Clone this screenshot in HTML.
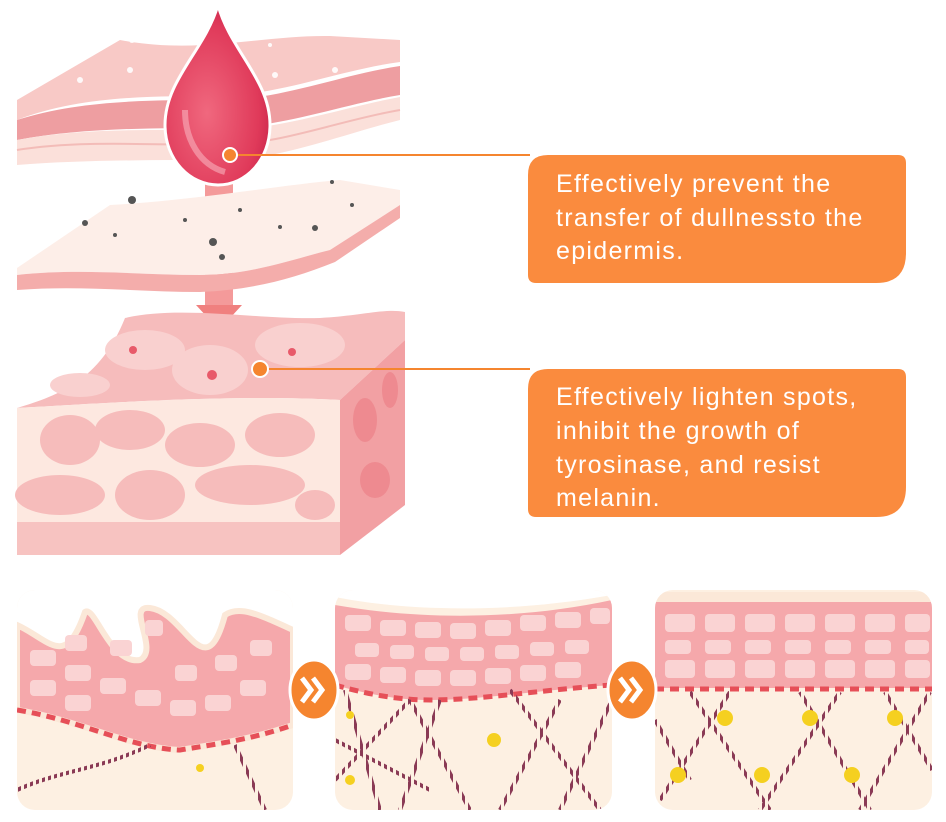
<!DOCTYPE html>
<html><head><meta charset="utf-8"><style>
html,body{margin:0;padding:0;background:#fff;}
svg{display:block}
text{font-family:"Liberation Sans",sans-serif;}
</style></head><body>
<svg width="946" height="822" viewBox="0 0 946 822" xmlns="http://www.w3.org/2000/svg">
<defs>
<pattern id="fib" width="6" height="6" patternUnits="userSpaceOnUse"><rect width="3" height="6" fill="#8a3a55"/></pattern>
<radialGradient id="drop" cx="0.4" cy="0.6" r="0.7"><stop offset="0" stop-color="#f0687e"/><stop offset="0.7" stop-color="#e03a5a"/><stop offset="1" stop-color="#c42048"/></radialGradient>
<clipPath id="c1"><rect x="17" y="590" width="276" height="220" rx="18"/></clipPath>
<clipPath id="c2"><rect x="335" y="590" width="277" height="220" rx="18"/></clipPath>
<clipPath id="c3"><rect x="655" y="590" width="277" height="220" rx="18"/></clipPath>
</defs>

<!-- top slab -->
<path d="M17,100 L120,40 C200,55 260,35 330,36 L400,40 L400,62 C340,70 280,95 220,96 C150,96 80,96 17,120 Z" fill="#f8c9c6"/>
<path d="M17,120 C80,100 150,100 220,100 C280,100 340,75 400,66 L400,95 C340,105 280,128 220,128 C150,128 80,128 17,140 Z" fill="#ee9ea1"/>
<path d="M17,140 C80,128 150,130 220,130 C280,130 340,108 400,97 L400,120 C340,135 280,160 220,160 C150,160 80,160 17,165 Z" fill="#fbe0da"/>
<path d="M17,150 C80,140 150,145 220,145 C280,145 340,120 400,110" stroke="#f3bcb8" stroke-width="2" fill="none"/>
<g fill="#fff" opacity="0.9"><circle cx="132" cy="40" r="3"/><circle cx="80" cy="80" r="3"/><circle cx="130" cy="70" r="3"/><circle cx="275" cy="75" r="3"/><circle cx="335" cy="70" r="3"/><circle cx="270" cy="45" r="2"/></g>

<!-- arrow shaft -->
<rect x="205" y="170" width="28" height="140" fill="#f49a9a"/>
<path d="M196,305 L242,305 L219,330 Z" fill="#f0807f"/>

<!-- middle slab -->
<path d="M17,268 L110,205 C200,200 280,185 340,180 L400,190 L400,205 L330,250 C290,260 250,275 200,275 C140,275 80,268 17,275 Z" fill="#fdeee8"/>
<path d="M17,275 C80,268 140,275 200,275 C250,275 290,260 330,250 L400,205 L400,218 L335,262 C290,280 250,290 200,292 C140,292 80,285 17,290 Z" fill="#f4adab"/>
<g fill="#555"><circle cx="132" cy="200" r="4"/><circle cx="213" cy="242" r="4"/><circle cx="222" cy="257" r="3"/><circle cx="315" cy="228" r="3"/><circle cx="85" cy="223" r="3"/><circle cx="240" cy="210" r="2"/><circle cx="280" cy="227" r="2"/><circle cx="332" cy="182" r="2"/><circle cx="352" cy="205" r="2"/><circle cx="185" cy="220" r="2"/><circle cx="115" cy="235" r="2"/></g>

<!-- bottom block -->
<path d="M17,408 C60,395 100,380 125,318 C180,305 260,320 320,318 C360,316 385,308 405,312 L405,340 L340,400 C250,395 150,400 17,408 Z" fill="#f6bcbc"/>
<g fill="#f9d0cf"><ellipse cx="145" cy="350" rx="40" ry="20"/><ellipse cx="210" cy="370" rx="38" ry="25"/><ellipse cx="300" cy="345" rx="45" ry="22"/><ellipse cx="80" cy="385" rx="30" ry="12"/></g>
<path d="M17,408 C150,400 250,395 340,400 L340,555 L17,548 Z" fill="#fde8e0"/>
<g fill="#f6bcbb"><ellipse cx="70" cy="440" rx="30" ry="25"/><ellipse cx="130" cy="430" rx="35" ry="20"/><ellipse cx="200" cy="445" rx="35" ry="22"/><ellipse cx="280" cy="435" rx="35" ry="22"/><ellipse cx="60" cy="495" rx="45" ry="20"/><ellipse cx="150" cy="495" rx="35" ry="25"/><ellipse cx="250" cy="485" rx="55" ry="20"/><ellipse cx="315" cy="505" rx="20" ry="15"/></g>
<rect x="17" y="522" width="323" height="33" fill="#f7c3c1"/>
<path d="M340,400 L405,340 L405,505 L340,555 Z" fill="#f2a0a3"/>
<g fill="#ee8a90"><ellipse cx="365" cy="420" rx="12" ry="22"/><ellipse cx="390" cy="390" rx="8" ry="18"/><ellipse cx="375" cy="480" rx="15" ry="18"/></g>
<g fill="#e85a6a"><circle cx="133" cy="350" r="4"/><circle cx="212" cy="375" r="5"/><circle cx="292" cy="352" r="4"/></g>

<!-- drop -->
<path d="M218,5 C205,50 165,80 165,125 C165,160 190,185 218,185 C246,185 270,160 270,125 C270,80 230,50 218,5 Z" fill="url(#drop)" stroke="#fff" stroke-width="3"/>
<path d="M185,110 C185,140 200,165 225,172" stroke="#f8b0bc" stroke-width="6" fill="none" opacity="0.6"/>

<!-- connectors -->
<line x1="230" y1="155" x2="530" y2="155" stroke="#f5852f" stroke-width="2"/>
<circle cx="230" cy="155" r="7" fill="#f5852f" stroke="#fff" stroke-width="2"/>
<line x1="260" y1="369" x2="530" y2="369" stroke="#f5852f" stroke-width="2"/>
<circle cx="260" cy="369" r="8" fill="#f5852f" stroke="#fff" stroke-width="2"/>

<!-- callouts -->
<path d="M548,155 L898,155 Q906,155 906,163 L906,253 Q906,283 876,283 L536,283 Q528,283 528,275 L528,175 Q528,155 548,155 Z" fill="#fa8b3e"/>
<g fill="#fff" font-size="25" letter-spacing="1.3"><text x="556" y="192">Effectively prevent the</text><text x="556" y="226">transfer of dullnessto the</text><text x="556" y="259">epidermis.</text></g>
<path d="M548,369 L898,369 Q906,369 906,377 L906,487 Q906,517 876,517 L536,517 Q528,517 528,509 L528,389 Q528,369 548,369 Z" fill="#fa8b3e"/>
<g fill="#fff" font-size="25" letter-spacing="1.3"><text x="556" y="405">Effectively lighten spots,</text><text x="556" y="439">inhibit the growth of</text><text x="556" y="473">tyrosinase, and resist</text><text x="556" y="506">melanin.</text></g>

<!-- panel 1 -->
<g clip-path="url(#c1)">
<rect x="17" y="590" width="276" height="220" fill="#fdf0e2"/>
<path d="M17,590 L293,590 L293,630 C260,615 240,605 225,615 C205,690 185,612 150,608 C125,605 160,650 140,660 C110,665 95,605 85,612 C65,670 50,640 17,625 Z" fill="#fff"/>
<path d="M17,625 C50,640 65,670 85,612 C95,605 110,665 140,660 C160,650 125,605 150,608 C185,612 205,690 225,615 C240,605 260,615 293,630 L293,725 C250,740 210,745 180,750 C130,748 80,720 17,710 Z" fill="#f5a8ab" stroke="#fbe8d8" stroke-width="6"/>
<path d="M17,710 C80,720 130,748 180,750 C210,745 250,740 293,725" stroke="#e64f58" stroke-width="5" stroke-dasharray="9,6" fill="none"/>
<g fill="#fad3d3"><rect x="30" y="650" width="26" height="16" rx="4"/><rect x="65" y="665" width="26" height="16" rx="4"/><rect x="100" y="678" width="26" height="16" rx="4"/><rect x="135" y="690" width="26" height="16" rx="4"/><rect x="170" y="700" width="26" height="16" rx="4"/><rect x="205" y="695" width="26" height="16" rx="4"/><rect x="240" y="680" width="26" height="16" rx="4"/><rect x="30" y="680" width="26" height="16" rx="4"/><rect x="65" y="695" width="26" height="16" rx="4"/><rect x="110" y="640" width="22" height="16" rx="4"/><rect x="175" y="665" width="22" height="16" rx="4"/><rect x="215" y="655" width="22" height="16" rx="4"/><rect x="250" y="640" width="22" height="16" rx="4"/><rect x="145" y="620" width="18" height="16" rx="4"/><rect x="65" y="635" width="22" height="16" rx="4"/></g>
<path d="M17,790 C60,770 100,770 150,745" stroke="url(#fib)" stroke-width="4" fill="none"/>
<path d="M235,745 L265,810" stroke="url(#fib)" stroke-width="4" fill="none"/>
<circle cx="200" cy="768" r="4" fill="#f5d020"/>
</g>

<!-- panel 2 -->
<g clip-path="url(#c2)">
<rect x="335" y="590" width="277" height="220" fill="#fdf0e2"/>
<path d="M335,590 L612,590 L612,595 C500,615 400,610 335,597 Z" fill="#fff"/>
<path d="M335,605 C420,620 520,620 612,600 L612,685 C540,690 480,700 430,700 C400,700 370,695 335,685 Z" fill="#f5a8ab"/>
<path d="M335,685 C370,695 400,700 430,700 C480,700 540,690 612,685" stroke="#e64f58" stroke-width="5" stroke-dasharray="9,6" fill="none"/>
<g fill="#fad3d3">
<rect x="345" y="615" width="26" height="16" rx="4"/><rect x="380" y="620" width="26" height="16" rx="4"/><rect x="415" y="622" width="26" height="16" rx="4"/><rect x="450" y="623" width="26" height="16" rx="4"/><rect x="485" y="620" width="26" height="16" rx="4"/><rect x="520" y="615" width="26" height="16" rx="4"/><rect x="555" y="612" width="26" height="16" rx="4"/><rect x="590" y="608" width="20" height="16" rx="4"/>
<rect x="355" y="643" width="24" height="14" rx="4"/><rect x="390" y="645" width="24" height="14" rx="4"/><rect x="425" y="647" width="24" height="14" rx="4"/><rect x="460" y="647" width="24" height="14" rx="4"/><rect x="495" y="645" width="24" height="14" rx="4"/><rect x="530" y="642" width="24" height="14" rx="4"/><rect x="565" y="640" width="24" height="14" rx="4"/>
<rect x="345" y="664" width="26" height="16" rx="4"/><rect x="380" y="667" width="26" height="16" rx="4"/><rect x="415" y="670" width="26" height="16" rx="4"/><rect x="450" y="670" width="26" height="16" rx="4"/><rect x="485" y="668" width="26" height="16" rx="4"/><rect x="520" y="665" width="26" height="16" rx="4"/><rect x="555" y="662" width="26" height="16" rx="4"/></g>
<g stroke="url(#fib)" stroke-width="4" fill="none"><path d="M345,690 L380,810"/><path d="M335,780 L410,700"/><path d="M410,700 L470,810"/><path d="M440,700 L400,810"/><path d="M510,690 L600,810"/><path d="M560,700 L500,810"/><path d="M612,700 L560,810"/><path d="M335,740 L430,790"/></g>
<circle cx="494" cy="740" r="7" fill="#f5d020"/><circle cx="350" cy="780" r="5" fill="#f5d020"/><circle cx="350" cy="715" r="4" fill="#f5d020"/>
</g>

<!-- panel 3 -->
<g clip-path="url(#c3)">
<rect x="655" y="590" width="277" height="220" fill="#fdf0e2"/>
<rect x="655" y="592" width="277" height="10" fill="#fbe8d8"/>
<rect x="655" y="602" width="277" height="86" fill="#f5a8ab"/>
<line x1="655" y1="689" x2="932" y2="689" stroke="#e64f58" stroke-width="5" stroke-dasharray="9,6"/>
<g fill="#fad3d3">
<rect x="665" y="614" width="30" height="18" rx="4"/><rect x="705" y="614" width="30" height="18" rx="4"/><rect x="745" y="614" width="30" height="18" rx="4"/><rect x="785" y="614" width="30" height="18" rx="4"/><rect x="825" y="614" width="30" height="18" rx="4"/><rect x="865" y="614" width="30" height="18" rx="4"/><rect x="905" y="614" width="25" height="18" rx="4"/>
<rect x="665" y="640" width="26" height="14" rx="4"/><rect x="705" y="640" width="26" height="14" rx="4"/><rect x="745" y="640" width="26" height="14" rx="4"/><rect x="785" y="640" width="26" height="14" rx="4"/><rect x="825" y="640" width="26" height="14" rx="4"/><rect x="865" y="640" width="26" height="14" rx="4"/><rect x="905" y="640" width="24" height="14" rx="4"/>
<rect x="665" y="660" width="30" height="18" rx="4"/><rect x="705" y="660" width="30" height="18" rx="4"/><rect x="745" y="660" width="30" height="18" rx="4"/><rect x="785" y="660" width="30" height="18" rx="4"/><rect x="825" y="660" width="30" height="18" rx="4"/><rect x="865" y="660" width="30" height="18" rx="4"/><rect x="905" y="660" width="25" height="18" rx="4"/></g>
<g stroke="url(#fib)" stroke-width="4" fill="none"><path d="M660,800 L730,692"/><path d="M690,692 L770,810"/><path d="M760,810 L840,692"/><path d="M800,692 L870,810"/><path d="M860,810 L930,692"/><path d="M885,692 L932,770"/><path d="M655,720 L690,780"/></g>
<g fill="#f5d020"><circle cx="725" cy="718" r="8"/><circle cx="810" cy="718" r="8"/><circle cx="895" cy="718" r="8"/><circle cx="678" cy="775" r="8"/><circle cx="762" cy="775" r="8"/><circle cx="852" cy="775" r="8"/></g>
</g>

<!-- step arrows -->
<g>
<ellipse cx="314" cy="690" rx="24" ry="30" fill="#f5852f" stroke="#fff" stroke-width="3"/>
<path d="M302,678 L311,690 L302,702 M313,678 L322,690 L313,702" stroke="#fff" stroke-width="5" fill="none"/>
<ellipse cx="632" cy="690" rx="24" ry="30" fill="#f5852f" stroke="#fff" stroke-width="3"/>
<path d="M620,678 L629,690 L620,702 M631,678 L640,690 L631,702" stroke="#fff" stroke-width="5" fill="none"/>
</g>
</svg>
</body></html>
